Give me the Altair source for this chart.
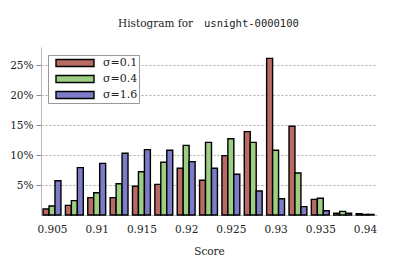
import altair as alt
import pandas as pd

bins = [0.905, 0.9075, 0.91, 0.9125, 0.915, 0.9175, 0.92, 0.9225,
        0.925, 0.9275, 0.93, 0.9325, 0.935, 0.9375, 0.94]
sigma_01 = [1.0, 1.6, 2.9, 2.9, 4.8, 5.1, 7.8, 5.8, 9.9, 13.9, 26.1, 14.8, 2.6, 0.3, 0.2]
sigma_04 = [1.5, 2.4, 3.7, 5.2, 7.2, 8.8, 11.6, 12.1, 12.7, 12.1, 10.8, 7.0, 2.8, 0.6, 0.1]
sigma_16 = [5.7, 7.9, 8.6, 10.3, 10.9, 10.8, 8.9, 7.8, 6.8, 4.0, 2.7, 1.4, 0.7, 0.3, 0.1]
series_labels = ["σ=0.1", "σ=0.4", "σ=1.6"]
colors = ["#b86a63", "#9ccf82", "#7c7cc8"]
x_ticks = [0.905, 0.91, 0.915, 0.92, 0.925, 0.93, 0.935, 0.94]
y_ticks = [5, 10, 15, 20, 25]
title_left = "Histogram for"
title_right = "usnight-0000100"

group_w = 0.0020
bar_w = group_w / 3
rows = []
for i, vals in enumerate([sigma_01, sigma_04, sigma_16]):
    for b, v in zip(bins, vals):
        left = b - group_w / 2 + i * bar_w
        rows.append({"series": series_labels[i], "x0": left, "x1": left + bar_w, "pct": v})
df = pd.DataFrame(rows)

serif = "DejaVu Serif"

bars = alt.Chart(df).mark_bar(stroke="black", strokeWidth=1.4, opacity=1).encode(
    x=alt.X("x0:Q", scale=alt.Scale(domain=[0.90377, 0.94134], nice=False, zero=False),
            axis=alt.Axis(values=x_ticks, format=".3~f", ticks=False, grid=False,
                          domainColor="#bbbbbb", labelFont=serif, labelFontSize=10.5,
                          labelColor="#222222", labelPadding=9, title="Score",
                          titleFont=serif, titleFontSize=10.5, titleFontWeight="normal",
                          titleColor="#222222", titlePadding=12)),
    x2="x1:Q",
    y=alt.Y("pct:Q", scale=alt.Scale(domain=[0, 28], nice=False),
            axis=alt.Axis(values=y_ticks, labelExpr="datum.value + '%'", grid=True,
                          gridDash=[2, 2], gridColor="#aaaaaa", gridWidth=1,
                          domainColor="#bbbbbb", tickColor="#888888", tickSize=5,
                          labelFont=serif, labelFontSize=10.5, labelColor="#222222",
                          labelPadding=3, title=None)),
    y2=alt.datum(0),
    color=alt.Color("series:N", scale=alt.Scale(domain=series_labels, range=colors),
                    legend=alt.Legend(title="\u2003\u2003", titleOrient="right", titlePadding=0,
                                      titleFontSize=10, titleFont=serif,
                                      orient="none", legendX=7, legendY=8,
                                      symbolType="M-1,-0.184L1,-0.184L1,0.184L-1,0.184Z",
                                      symbolSize=1444, symbolStrokeColor="black",
                                      symbolStrokeWidth=1.4, symbolOpacity=1,
                                      symbolOffset=6, clipHeight=14,
                                      labelFont=serif, labelFontSize=11, labelColor="#222222",
                                      labelOffset=8, rowPadding=2, padding=1,
                                      fillColor="white", strokeColor="#999999",
                                      cornerRadius=0)),
)

t1 = alt.Chart(pd.DataFrame({"t": [title_left]})).mark_text(
    font=serif, fontSize=10.5, align="right", baseline="middle", color="#222222"
).encode(text="t:N", x=alt.value(152), y=alt.value(-23))
t2 = alt.Chart(pd.DataFrame({"t": [title_right]})).mark_text(
    font="DejaVu Sans Mono", fontSize=10.5, align="left", baseline="middle", color="#222222"
).encode(text="t:N", x=alt.value(163), y=alt.value(-23))

chart = alt.layer(bars, t1, t2).properties(
    width=336, height=168,
    autosize=alt.AutoSizeParams(type="none"),
    padding={"left": 33, "top": 39, "right": 14, "bottom": 43},
).configure_view(stroke=None)

chart.save("out.html", embed_options={"renderer": "svg", "actions": False})
